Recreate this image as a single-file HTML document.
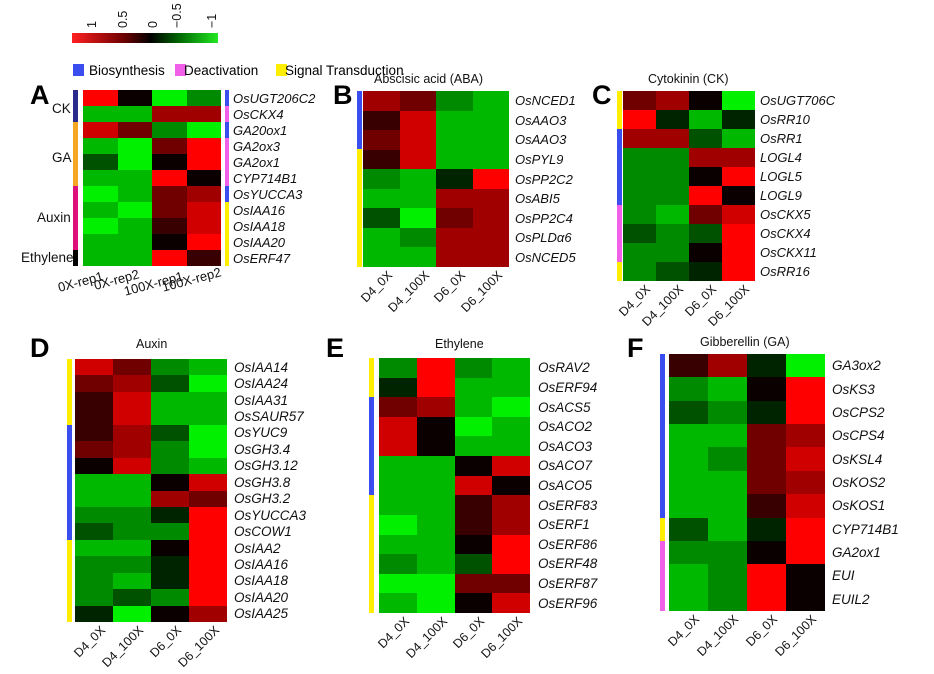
<!DOCTYPE html>
<html><head><meta charset="utf-8"><style>
body{margin:0;background:#fff;width:934px;height:674px;position:relative;overflow:hidden;font-family:"Liberation Sans",sans-serif}
.hm{position:absolute;display:grid;grid-template-columns:repeat(4,1fr)}
.hm i{display:block}
.R{background:#ff0000}.r{background:#d00000}.m{background:#a00000}.d{background:#700000}.k{background:#380000}.z{background:#0a0000}
.h{background:#002400}.g{background:#005200}.G{background:#008a00}.L{background:#00b800}.B{background:#00f000}
.lab{position:absolute;display:flex;flex-direction:column;font-style:italic;font-size:13px;color:#111}
.lab span{flex:1;display:flex;align-items:center;white-space:nowrap}
.bar{position:absolute;width:5px}
.t{position:absolute;font-size:12.5px;color:#111;white-space:nowrap}
.P{position:absolute;font-weight:bold;font-size:27px;color:#000}
</style></head><body>
<svg width="934" height="674" style="position:absolute;left:0;top:0">
<defs><linearGradient id="cb"><stop offset="0" stop-color="#ff2020"/><stop offset="0.35" stop-color="#700000"/><stop offset="0.54" stop-color="#000"/><stop offset="0.72" stop-color="#006000"/><stop offset="1" stop-color="#22e822"/></linearGradient></defs>
<rect x="72" y="33" width="146" height="10" fill="url(#cb)"/>
<g font-size="12.5" fill="#111">
<text transform="translate(96,28) rotate(-90)">1</text>
<text transform="translate(127,28) rotate(-90)">0.5</text>
<text transform="translate(157,28) rotate(-90)">0</text>
<text transform="translate(181,28) rotate(-90)">−0.5</text>
<text transform="translate(216,28) rotate(-90)">−1</text>
</g>
<rect x="73" y="64" width="11" height="12" fill="#3a4ef0"/><text x="89" y="75" font-size="13.5">Biosynthesis</text>
<rect x="175" y="64" width="11" height="12" fill="#f060e8"/><text x="184" y="75" font-size="13.5">Deactivation</text>
<rect x="276" y="64" width="11" height="12" fill="#ffee00"/><text x="285" y="75" font-size="13.5">Signal Transduction</text>
<g font-size="13" fill="#111" text-anchor="end">
<text transform="translate(104,280) rotate(-15)">0X-rep1</text>
<text transform="translate(140,278) rotate(-15)">0X-rep2</text>
<text transform="translate(184,280) rotate(-15)">100X-rep1</text>
<text transform="translate(222,276) rotate(-15)">100X-rep2</text>
</g>
<g font-size="12.5" fill="#111" text-anchor="end">
<text transform="translate(393,276) rotate(-45)">D4_0X</text><text transform="translate(430,276) rotate(-45)">D4_100X</text><text transform="translate(466,276) rotate(-45)">D6_0X</text><text transform="translate(503,276) rotate(-45)">D6_100X</text>
<text transform="translate(651,290) rotate(-45)">D4_0X</text><text transform="translate(684,290) rotate(-45)">D4_100X</text><text transform="translate(717,290) rotate(-45)">D6_0X</text><text transform="translate(750,290) rotate(-45)">D6_100X</text>
<text transform="translate(106,631) rotate(-45)">D4_0X</text><text transform="translate(144,631) rotate(-45)">D4_100X</text><text transform="translate(182,631) rotate(-45)">D6_0X</text><text transform="translate(220,631) rotate(-45)">D6_100X</text>
<text transform="translate(410,622) rotate(-45)">D4_0X</text><text transform="translate(448,622) rotate(-45)">D4_100X</text><text transform="translate(485,622) rotate(-45)">D6_0X</text><text transform="translate(523,622) rotate(-45)">D6_100X</text>
<text transform="translate(700,620) rotate(-45)">D4_0X</text><text transform="translate(739,620) rotate(-45)">D4_100X</text><text transform="translate(778,620) rotate(-45)">D6_0X</text><text transform="translate(817,620) rotate(-45)">D6_100X</text>
</g>
</svg>

<!-- A -->
<div class="P" style="left:30px;top:80px">A</div>
<div class="bar" style="left:73px;top:90px;height:32px;background:#2a2a8c"></div>
<div class="bar" style="left:73px;top:122px;height:64px;background:#f5a623"></div>
<div class="bar" style="left:73px;top:186px;height:64px;background:#e0107a"></div>
<div class="bar" style="left:73px;top:250px;height:16px;background:#000"></div>
<div class="t" style="left:52px;top:101px;font-size:13.5px">CK</div>
<div class="t" style="left:52px;top:150px;font-size:13.5px">GA</div>
<div class="t" style="left:37px;top:210px;font-size:13.5px">Auxin</div>
<div class="t" style="left:21px;top:250px;font-size:13.5px">Ethylene</div>
<div class="hm" style="left:83px;top:90px;width:138px;height:176px;grid-template-rows:repeat(11,1fr)">
<i class="R"></i><i class="z"></i><i class="B"></i><i class="G"></i>
<i class="L"></i><i class="L"></i><i class="m"></i><i class="m"></i>
<i class="r"></i><i class="d"></i><i class="G"></i><i class="B"></i>
<i class="L"></i><i class="B"></i><i class="d"></i><i class="R"></i>
<i class="g"></i><i class="B"></i><i class="z"></i><i class="R"></i>
<i class="L"></i><i class="L"></i><i class="R"></i><i class="z"></i>
<i class="B"></i><i class="L"></i><i class="d"></i><i class="m"></i>
<i class="L"></i><i class="B"></i><i class="d"></i><i class="r"></i>
<i class="B"></i><i class="L"></i><i class="k"></i><i class="r"></i>
<i class="L"></i><i class="L"></i><i class="z"></i><i class="R"></i>
<i class="L"></i><i class="L"></i><i class="R"></i><i class="k"></i>
</div>
<div class="bar" style="left:225px;top:90px;height:16px;background:#3a4ef0;width:4px"></div>
<div class="bar" style="left:225px;top:106px;height:16px;background:#f060e8;width:4px"></div>
<div class="bar" style="left:225px;top:122px;height:16px;background:#3a4ef0;width:4px"></div>
<div class="bar" style="left:225px;top:138px;height:48px;background:#f060e8;width:4px"></div>
<div class="bar" style="left:225px;top:186px;height:16px;background:#3a4ef0;width:4px"></div>
<div class="bar" style="left:225px;top:202px;height:64px;background:#ffee00;width:4px"></div>
<div class="lab" style="left:233px;top:90px;height:176px"><span>OsUGT206C2</span><span>OsCKX4</span><span>GA20ox1</span><span>GA2ox3</span><span>GA2ox1</span><span>CYP714B1</span><span>OsYUCCA3</span><span>OsIAA16</span><span>OsIAA18</span><span>OsIAA20</span><span>OsERF47</span></div>

<!-- B -->
<div class="P" style="left:333px;top:80px">B</div>
<div class="t" style="left:374px;top:72px">Abscisic acid (ABA)</div>
<div class="bar" style="left:357px;top:91px;height:58px;background:#3a4ef0"></div>
<div class="bar" style="left:357px;top:149px;height:118px;background:#ffee00"></div>
<div class="hm" style="left:363px;top:91px;width:146px;height:176px;grid-template-rows:repeat(9,1fr)">
<i class="m"></i><i class="d"></i><i class="G"></i><i class="L"></i>
<i class="k"></i><i class="r"></i><i class="L"></i><i class="L"></i>
<i class="d"></i><i class="r"></i><i class="L"></i><i class="L"></i>
<i class="k"></i><i class="r"></i><i class="L"></i><i class="L"></i>
<i class="G"></i><i class="L"></i><i class="h"></i><i class="R"></i>
<i class="L"></i><i class="L"></i><i class="m"></i><i class="m"></i>
<i class="g"></i><i class="B"></i><i class="d"></i><i class="m"></i>
<i class="L"></i><i class="G"></i><i class="m"></i><i class="m"></i>
<i class="L"></i><i class="L"></i><i class="m"></i><i class="m"></i>
</div>
<div class="lab" style="left:515px;top:91px;height:176px"><span>OsNCED1</span><span>OsAAO3</span><span>OsAAO3</span><span>OsPYL9</span><span>OsPP2C2</span><span>OsABI5</span><span>OsPP2C4</span><span>OsPLDα6</span><span>OsNCED5</span></div>

<!-- C -->
<div class="P" style="left:592px;top:80px">C</div>
<div class="t" style="left:648px;top:72px">Cytokinin (CK)</div>
<div class="bar" style="left:617px;top:91px;height:38px;background:#ffee00"></div>
<div class="bar" style="left:617px;top:129px;height:76px;background:#3a4ef0"></div>
<div class="bar" style="left:617px;top:205px;height:57px;background:#f060e8"></div>
<div class="bar" style="left:617px;top:262px;height:19px;background:#ffee00"></div>
<div class="hm" style="left:623px;top:91px;width:132px;height:190px;grid-template-rows:repeat(10,1fr)">
<i class="d"></i><i class="m"></i><i class="z"></i><i class="B"></i>
<i class="R"></i><i class="h"></i><i class="L"></i><i class="h"></i>
<i class="m"></i><i class="m"></i><i class="g"></i><i class="L"></i>
<i class="G"></i><i class="G"></i><i class="m"></i><i class="m"></i>
<i class="G"></i><i class="G"></i><i class="z"></i><i class="R"></i>
<i class="G"></i><i class="G"></i><i class="R"></i><i class="z"></i>
<i class="G"></i><i class="L"></i><i class="d"></i><i class="r"></i>
<i class="g"></i><i class="G"></i><i class="g"></i><i class="R"></i>
<i class="G"></i><i class="G"></i><i class="z"></i><i class="R"></i>
<i class="G"></i><i class="g"></i><i class="h"></i><i class="R"></i>
</div>
<div class="lab" style="left:760px;top:91px;height:190px"><span>OsUGT706C</span><span>OsRR10</span><span>OsRR1</span><span>LOGL4</span><span>LOGL5</span><span>LOGL9</span><span>OsCKX5</span><span>OsCKX4</span><span>OsCKX11</span><span>OsRR16</span></div>

<!-- D -->
<div class="P" style="left:30px;top:333px">D</div>
<div class="t" style="left:136px;top:337px">Auxin</div>
<div class="bar" style="left:67px;top:359px;height:66px;background:#ffee00"></div>
<div class="bar" style="left:67px;top:425px;height:115px;background:#3a4ef0"></div>
<div class="bar" style="left:67px;top:540px;height:82px;background:#ffee00"></div>
<div class="hm" style="left:75px;top:359px;width:152px;height:263px;grid-template-rows:repeat(16,1fr)">
<i class="r"></i><i class="d"></i><i class="G"></i><i class="L"></i>
<i class="d"></i><i class="m"></i><i class="g"></i><i class="B"></i>
<i class="k"></i><i class="r"></i><i class="L"></i><i class="L"></i>
<i class="k"></i><i class="r"></i><i class="L"></i><i class="L"></i>
<i class="k"></i><i class="m"></i><i class="g"></i><i class="B"></i>
<i class="d"></i><i class="m"></i><i class="G"></i><i class="B"></i>
<i class="z"></i><i class="r"></i><i class="G"></i><i class="L"></i>
<i class="L"></i><i class="L"></i><i class="z"></i><i class="r"></i>
<i class="L"></i><i class="L"></i><i class="m"></i><i class="d"></i>
<i class="G"></i><i class="G"></i><i class="h"></i><i class="R"></i>
<i class="g"></i><i class="G"></i><i class="G"></i><i class="R"></i>
<i class="L"></i><i class="L"></i><i class="z"></i><i class="R"></i>
<i class="G"></i><i class="G"></i><i class="h"></i><i class="R"></i>
<i class="G"></i><i class="L"></i><i class="h"></i><i class="R"></i>
<i class="G"></i><i class="g"></i><i class="G"></i><i class="R"></i>
<i class="h"></i><i class="B"></i><i class="z"></i><i class="m"></i>
</div>
<div class="lab" style="left:234px;top:359px;height:263px;font-size:13.5px"><span>OsIAA14</span><span>OsIAA24</span><span>OsIAA31</span><span>OsSAUR57</span><span>OsYUC9</span><span>OsGH3.4</span><span>OsGH3.12</span><span>OsGH3.8</span><span>OsGH3.2</span><span>OsYUCCA3</span><span>OsCOW1</span><span>OsIAA2</span><span>OsIAA16</span><span>OsIAA18</span><span>OsIAA20</span><span>OsIAA25</span></div>

<!-- E -->
<div class="P" style="left:326px;top:333px">E</div>
<div class="t" style="left:435px;top:337px">Ethylene</div>
<div class="bar" style="left:369px;top:358px;height:39px;background:#ffee00"></div>
<div class="bar" style="left:369px;top:397px;height:98px;background:#3a4ef0"></div>
<div class="bar" style="left:369px;top:495px;height:118px;background:#ffee00"></div>
<div class="hm" style="left:379px;top:358px;width:151px;height:255px;grid-template-rows:repeat(13,1fr)">
<i class="G"></i><i class="R"></i><i class="G"></i><i class="L"></i>
<i class="h"></i><i class="R"></i><i class="L"></i><i class="L"></i>
<i class="d"></i><i class="m"></i><i class="L"></i><i class="B"></i>
<i class="r"></i><i class="z"></i><i class="B"></i><i class="L"></i>
<i class="r"></i><i class="z"></i><i class="L"></i><i class="L"></i>
<i class="L"></i><i class="L"></i><i class="z"></i><i class="r"></i>
<i class="L"></i><i class="L"></i><i class="r"></i><i class="z"></i>
<i class="L"></i><i class="L"></i><i class="k"></i><i class="m"></i>
<i class="B"></i><i class="L"></i><i class="k"></i><i class="m"></i>
<i class="L"></i><i class="L"></i><i class="z"></i><i class="R"></i>
<i class="G"></i><i class="L"></i><i class="g"></i><i class="R"></i>
<i class="B"></i><i class="B"></i><i class="d"></i><i class="d"></i>
<i class="L"></i><i class="B"></i><i class="z"></i><i class="r"></i>
</div>
<div class="lab" style="left:538px;top:358px;height:255px;font-size:13.5px"><span>OsRAV2</span><span>OsERF94</span><span>OsACS5</span><span>OsACO2</span><span>OsACO3</span><span>OsACO7</span><span>OsACO5</span><span>OsERF83</span><span>OsERF1</span><span>OsERF86</span><span>OsERF48</span><span>OsERF87</span><span>OsERF96</span></div>

<!-- F -->
<div class="P" style="left:627px;top:333px">F</div>
<div class="t" style="left:700px;top:335px">Gibberellin (GA)</div>
<div class="bar" style="left:660px;top:354px;height:164px;background:#3a4ef0"></div>
<div class="bar" style="left:660px;top:518px;height:23px;background:#ffee00"></div>
<div class="bar" style="left:660px;top:541px;height:70px;background:#f060e8"></div>
<div class="hm" style="left:669px;top:354px;width:156px;height:257px;grid-template-rows:repeat(11,1fr)">
<i class="k"></i><i class="m"></i><i class="h"></i><i class="B"></i>
<i class="G"></i><i class="L"></i><i class="z"></i><i class="R"></i>
<i class="g"></i><i class="G"></i><i class="h"></i><i class="R"></i>
<i class="L"></i><i class="L"></i><i class="d"></i><i class="m"></i>
<i class="L"></i><i class="G"></i><i class="d"></i><i class="r"></i>
<i class="L"></i><i class="L"></i><i class="d"></i><i class="m"></i>
<i class="L"></i><i class="L"></i><i class="k"></i><i class="r"></i>
<i class="g"></i><i class="L"></i><i class="h"></i><i class="R"></i>
<i class="G"></i><i class="G"></i><i class="z"></i><i class="R"></i>
<i class="L"></i><i class="G"></i><i class="R"></i><i class="z"></i>
<i class="L"></i><i class="G"></i><i class="R"></i><i class="z"></i>
</div>
<div class="lab" style="left:832px;top:354px;height:257px;font-size:13.5px"><span>GA3ox2</span><span>OsKS3</span><span>OsCPS2</span><span>OsCPS4</span><span>OsKSL4</span><span>OsKOS2</span><span>OsKOS1</span><span>CYP714B1</span><span>GA2ox1</span><span>EUI</span><span>EUIL2</span></div>
</body></html>
